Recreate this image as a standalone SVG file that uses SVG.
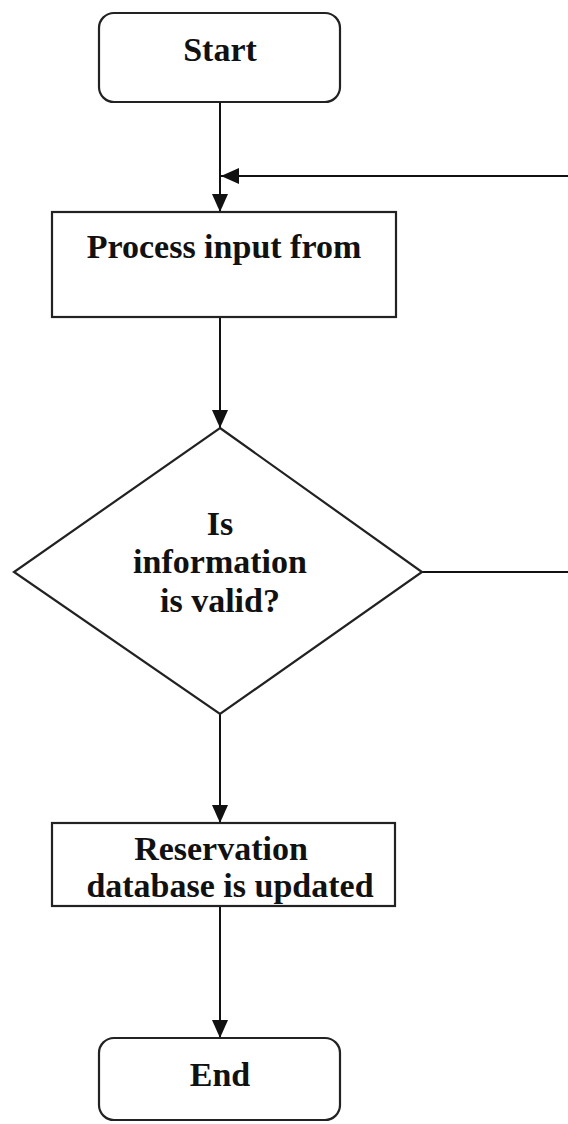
<svg xmlns="http://www.w3.org/2000/svg" width="568" height="1124" viewBox="0 0 568 1124">
  <style>
    .shape { fill: #ffffff; stroke: #222222; stroke-width: 2.2; }
    .edge { fill: none; stroke: #111111; stroke-width: 2; }
    .label { font-family: "Liberation Serif", "Times New Roman", serif; font-weight: bold; font-size: 34px; fill: #111111; text-anchor: middle; }
  </style>
  <defs>
    <marker id="arrow" viewBox="0 0 18 18" refX="18" refY="9" markerWidth="18" markerHeight="18" markerUnits="userSpaceOnUse" orient="auto">
      <path d="M0,1 L18,9 L0,17 Z" fill="#111111"/>
    </marker>
  </defs>
  <rect width="568" height="1124" fill="#ffffff"/>

  <g id="connectors">
    <line class="edge" x1="220" y1="102" x2="220" y2="212" marker-end="url(#arrow)"/>
    <line class="edge" x1="568" y1="176" x2="221" y2="176" marker-end="url(#arrow)"/>
    <line class="edge" x1="220" y1="317" x2="220" y2="428" marker-end="url(#arrow)"/>
    <line class="edge" x1="422" y1="572" x2="568" y2="572"/>
    <line class="edge" x1="220" y1="714" x2="220" y2="823" marker-end="url(#arrow)"/>
    <line class="edge" x1="220" y1="906" x2="220" y2="1038" marker-end="url(#arrow)"/>
  </g>

  <g id="start">
    <rect class="shape" x="99" y="13" width="241" height="89" rx="15" ry="15"/>
    <text class="label" x="220" y="61">Start</text>
  </g>

  <g id="process-input">
    <rect class="shape" x="52" y="212" width="344" height="105"/>
    <text class="label" x="224" y="258">Process input from</text>
  </g>

  <g id="is-valid">
    <polygon class="shape" points="220,428 422,572 220,714 14,572"/>
    <text class="label" x="220" y="535">Is</text>
    <text class="label" x="220" y="573">information</text>
    <text class="label" x="220" y="612">is valid?</text>
  </g>

  <g id="update-db">
    <rect class="shape" x="52" y="823" width="343" height="83"/>
    <text class="label" x="221" y="860">Reservation</text>
    <text class="label" x="230" y="897">database is updated</text>
  </g>

  <g id="end">
    <rect class="shape" x="99" y="1038" width="241" height="82" rx="15" ry="15"/>
    <text class="label" x="220" y="1086">End</text>
  </g>
</svg>
